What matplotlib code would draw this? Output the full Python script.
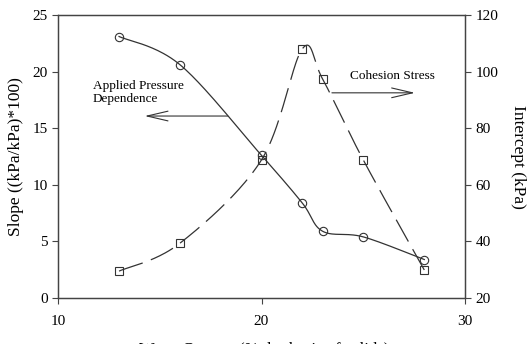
import numpy as np
import matplotlib.pyplot as plt

plt.rcParams['font.family'] = ['Liberation Serif', 'DejaVu Serif']

# データ
water = [13, 16, 20, 22, 23, 25, 28]
slope = [23.1, 20.6, 12.6, 8.4, 5.9, 5.4, 3.4]
intercept = [29.5, 39.4, 68.8, 108.0, 97.4, 68.8, 29.9]

x_ticks = [10, 20, 30]
left_ticks = [0, 5, 10, 15, 20, 25]
right_ticks = [20, 40, 60, 80, 100, 120]


def smooth(xs, ys, n=40):
    """Catmull-Rom補間（Excelの平滑線に近い）"""
    p = np.column_stack([xs, ys]).astype(float)
    p = np.vstack([p[0], p, p[-1]])
    out = []
    t = np.linspace(0, 1, n)[:, None]
    for i in range(1, len(p) - 2):
        p0, p1, p2, p3 = p[i - 1], p[i], p[i + 1], p[i + 2]
        c1 = p1 + (p2 - p0) / 6
        c2 = p2 - (p3 - p1) / 6
        seg = ((1 - t) ** 3) * p1 + 3 * ((1 - t) ** 2) * t * c1 + 3 * (1 - t) * t ** 2 * c2 + t ** 3 * p2
        out.append(seg)
    out = np.vstack(out)
    return out[:, 0], out[:, 1]


fig = plt.figure(figsize=(5.28, 3.44), dpi=100)
ax = fig.add_axes([58 / 528, 46 / 344, 407 / 528, 283 / 344])
ax2 = ax.twinx()

sx, sy = smooth(water, slope)
ax.plot(sx, sy, color='#333333', lw=0.9)
ax.plot(water, slope, 'o', ms=6, mfc='none', mec='#333333', mew=0.8)

ix, iy = smooth(water, intercept)
ax2.plot(ix, iy, color='#333333', lw=0.9, dashes=(20, 7))
ax2.plot(water, intercept, 's', ms=5.5, mfc='none', mec='#333333', mew=0.8)

ax.set_xlim(10, 30)
ax.set_ylim(0, 25)
ax2.set_ylim(20, 120)
ax.set_xticks(x_ticks)
ax.set_yticks(left_ticks)
ax2.set_yticks(right_ticks)

for a in (ax, ax2):
    a.tick_params(labelsize=11, length=4, width=0.8, direction='out', color='#444444')
    for s in a.spines.values():
        s.set_linewidth(0.9)
        s.set_color('#444444')
ax.tick_params(axis='x', pad=8)

ax.set_ylabel('Slope ((kPa/kPa)*100)', fontsize=12.5, labelpad=6)
ax2.set_ylabel('Intercept (kPa)', fontsize=12.5, rotation=270, labelpad=20)
fig.text(0.5, 2 / 344, 'Water Content (% dry basis of solids)', fontsize=12,
         ha='center', va='top')

# 注記
ax.text(0.085, 0.77, 'Applied Pressure\nDependence', transform=ax.transAxes,
        fontsize=9.5, ha='left', va='top', linespacing=1.05)
ax.annotate('', xy=(0.213, 0.643), xytext=(0.417, 0.643), xycoords='axes fraction',
            arrowprops=dict(arrowstyle='->,head_length=1.5,head_width=0.35',
                            color='#333333', lw=0.8, shrinkA=0, shrinkB=0))
ax.text(0.717, 0.785, 'Cohesion Stress', transform=ax.transAxes,
        fontsize=9.5, ha='left', va='center')
ax.annotate('', xy=(0.877, 0.725), xytext=(0.673, 0.725), xycoords='axes fraction',
            arrowprops=dict(arrowstyle='->,head_length=1.5,head_width=0.35',
                            color='#333333', lw=0.8, shrinkA=0, shrinkB=0))

fig.savefig('out.png', dpi=100)
